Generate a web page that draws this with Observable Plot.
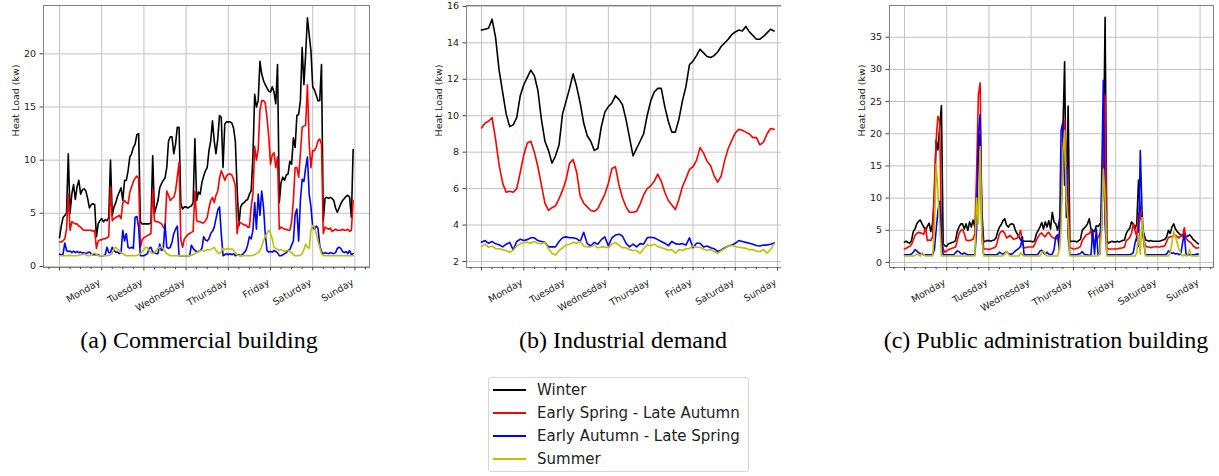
<!DOCTYPE html>
<html><head><meta charset="utf-8">
<script src="https://cdn.jsdelivr.net/npm/d3@7"></script>
<script src="https://cdn.jsdelivr.net/npm/@observablehq/plot@0.6"></script>
<style>
body{margin:0;background:#fff;}
#wrap{position:relative;width:1219px;height:476px;background:#fff;overflow:hidden;}
.panel{position:absolute;top:0;}
.cap{position:absolute;top:328px;font-family:"Liberation Serif","Times New Roman",serif;font-size:24px;line-height:24px;color:#000;white-space:nowrap;transform:translateX(-50%);}
#legend{position:absolute;left:488px;top:377px;width:261px;height:95px;border:1px solid #d6d6d6;border-radius:3px;box-sizing:border-box;font-family:"DejaVu Sans",sans-serif;font-size:15px;color:#222;}
.lrow{position:absolute;left:0;height:23px;line-height:23px;white-space:nowrap;}
.lline{position:absolute;left:4px;top:10.5px;width:33px;height:2px;}
.ltext{position:absolute;left:48px;top:0;}
</style>
</head><body>
<div id="wrap">
  <div class="panel" id="pa" style="left:0;width:380px;"></div>
  <div class="panel" id="pb" style="left:420px;width:361px;height:320px;overflow:hidden;"></div>
  <div class="panel" id="pc" style="left:845px;width:374px;"></div>
  <div class="cap" id="ca" style="left:199px;"></div>
  <div class="cap" id="cb" style="left:623px;"></div>
  <div class="cap" id="cc" style="left:1046px;"></div>
  <div id="legend"></div>
</div>
<script>
const dayLabels = ["Monday","Tuesday","Wednesday","Thursday","Friday","Saturday","Sunday"];
const seasonNames = ["Winter","Early Spring - Late Autumn","Early Autumn - Late Spring","Summer"];
const seasonColors = ["#000000","#ff0000","#0000ff","#bfbf00"];
const captions = ["(a) Commercial building","(b) Industrial demand","(c) Public administration building"];
const commYTicks = [0,5,10,15,20];
const indYTicks = [2,4,6,8,10,12,14,16];
const pubYTicks = [0,5,10,15,20,25,30,35];

// (a) Commercial building, hourly values (h = 0..167)
const commWinter = [
2.7,3.8,4.6,4.8,5.0,10.6,5.0,6.8,7.7,6.3,7.5,8.1,6.8,7.2,7.3,7.1,6.4,5.5,5.8,5.9,5.8,2.8,4.0,4.3,
4.5,4.2,4.4,4.3,4.6,10.0,4.8,5.6,6.0,6.6,7.0,7.4,6.2,8.1,8.1,9.0,10.3,10.6,11.2,11.5,12.4,12.5,4.2,4.0,
4.0,4.0,4.0,4.0,4.1,10.4,5.0,5.6,6.2,7.4,7.8,8.1,8.3,9.3,11.8,12.2,12.2,10.6,11.5,13.1,13.1,5.9,5.4,5.6,
5.6,5.5,5.6,5.7,6.0,12.0,6.2,7.0,6.8,7.9,8.5,9.0,9.3,10.9,11.8,13.7,11.8,10.6,12.0,14.2,14.0,9.3,13.4,13.6,
13.6,13.6,13.5,13.0,11.8,7.4,3.8,5.6,5.9,6.0,6.2,6.3,6.8,7.1,10.3,16.2,15.0,15.6,19.3,18.1,17.5,17.1,16.8,16.5,
16.4,16.9,16.4,15.3,19.0,6.0,7.9,8.4,8.1,8.6,8.7,9.9,9.6,12.1,11.2,14.2,14.3,15.6,20.6,17.1,20.0,23.4,21.8,20.3,
16.9,16.6,16.1,15.6,15.6,19.0,4.3,6.4,6.5,6.4,6.5,6.4,6.2,5.5,5.1,5.5,5.9,6.2,6.4,6.6,6.7,6.5,4.6,11.0];
const commEarly = [
2.3,2.3,2.4,2.6,3.5,6.8,3.4,4.2,4.1,4.0,4.0,3.8,3.7,3.5,3.4,3.4,3.4,3.4,3.4,3.3,3.4,1.7,2.4,2.5,
2.5,2.6,2.6,2.7,2.8,7.5,4.3,4.5,4.6,4.7,4.8,4.5,6.0,6.2,6.0,5.9,7.0,7.5,8.0,8.3,8.5,8.3,1.8,2.5,
2.7,2.8,2.9,3.0,3.1,7.2,4.3,4.2,4.2,4.1,4.0,3.7,3.5,7.1,6.7,6.2,6.4,6.5,7.1,8.4,9.8,2.5,1.8,2.6,
2.8,3.0,3.1,3.2,3.3,7.1,4.3,4.2,4.2,4.1,4.1,4.3,4.6,5.5,6.2,6.5,6.0,6.7,7.1,8.3,9.0,8.6,8.1,8.5,
8.7,8.7,8.6,8.2,7.6,3.1,4.2,4.1,4.0,3.9,3.9,3.7,3.7,5.6,6.8,11.3,10.0,11.0,14.7,15.6,15.6,15.4,14.0,12.2,
9.6,10.5,10.7,9.3,10.3,3.5,3.7,3.6,3.5,3.5,3.4,3.4,4.2,6.2,9.3,9.3,8.4,10.6,13.1,13.2,13.3,17.1,11.5,9.3,
10.9,10.9,11.2,11.8,12.0,11.5,3.1,3.7,3.6,3.5,3.6,3.3,3.4,3.5,3.4,3.4,3.4,3.5,3.4,3.4,3.5,3.3,3.4,6.2];
const commAutumn = [
1.15,1.1,1.15,2.2,1.5,1.4,1.45,1.3,1.45,1.3,1.4,1.3,1.35,1.25,1.3,1.2,1.3,1.35,1.2,1.1,1.1,1.1,1.1,1.0,
1.0,1.0,1.1,1.8,1.3,1.3,1.8,1.5,1.35,1.35,1.2,1.3,3.4,2.4,3.1,1.8,1.7,1.8,1.7,4.6,4.7,3.7,1.0,1.0,
1.0,1.1,1.2,1.7,1.8,1.35,1.3,1.2,1.2,2.1,1.5,1.6,4.0,1.8,1.7,1.8,2.3,3.1,3.5,3.8,1.0,1.0,1.0,1.0,
1.0,1.0,1.0,2.0,1.7,1.5,1.4,1.4,1.5,1.7,2.8,2.5,2.4,2.6,3.1,3.3,3.7,4.5,5.3,5.6,3.1,1.0,1.1,1.2,
1.1,1.2,1.1,1.2,1.0,1.1,1.1,1.0,1.1,1.3,1.5,2.0,2.8,2.6,3.4,6.0,3.5,6.8,4.8,7.1,5.6,3.1,1.5,1.35,
1.4,1.35,1.5,1.4,1.3,1.0,1.0,1.1,1.2,1.3,1.5,1.6,2.0,2.4,4.9,5.4,2.4,6.2,8.2,8.0,9.3,10.3,6.8,5.6,
3.7,3.5,3.8,3.6,2.0,1.4,1.2,1.3,1.25,1.2,1.3,1.25,1.2,1.3,1.7,1.8,1.7,1.4,1.3,1.4,1.2,1.5,1.1,1.2];
const commSummer = [
1.0,1.0,1.0,1.0,1.0,1.0,1.05,1.0,1.0,1.0,1.0,1.05,1.1,1.1,1.2,1.1,1.0,1.0,1.1,1.2,1.25,1.15,1.0,1.0,
1.0,1.0,1.0,1.0,1.05,1.1,1.2,1.7,1.8,1.6,1.5,1.3,1.2,1.1,1.0,1.0,1.0,1.0,1.0,1.0,1.05,1.1,1.2,1.4,
1.6,1.8,1.75,1.5,1.3,1.2,1.3,1.5,1.7,1.8,1.8,1.7,1.4,1.2,1.1,1.0,1.0,1.0,1.0,1.0,1.0,1.0,1.0,1.0,
1.0,1.0,1.0,1.05,1.1,1.2,1.3,1.4,1.5,1.5,1.45,1.5,1.6,1.55,1.6,1.7,1.8,1.5,1.3,1.2,1.4,1.7,1.6,1.65,
1.7,1.6,1.65,1.5,1.3,1.1,1.0,1.0,1.0,1.0,1.0,1.0,1.0,1.0,1.05,1.1,1.2,1.3,1.5,1.9,2.4,2.8,3.1,3.4,
3.1,2.6,1.8,1.7,1.6,1.5,1.6,1.5,1.4,1.5,1.5,1.4,1.3,1.1,1.0,1.0,1.0,1.05,1.2,1.6,2.1,1.8,1.7,3.4,
3.85,3.7,3.1,2.4,1.8,1.2,1.0,1.0,1.0,1.0,1.0,1.0,1.0,1.0,1.0,1.0,1.0,1.0,1.0,1.0,1.0,1.0,1.0,1.0];

// (b) Industrial demand, values every 2 hours (h = 0,2,..,166)
const indWinter = [
14.7,14.75,14.8,15.3,14.3,12.5,11.3,10.1,9.4,9.5,9.9,11.1,
11.7,12.1,12.5,12.2,11.4,9.8,8.6,8.1,7.4,7.8,8.4,10.1,
10.8,11.5,12.3,11.6,10.7,9.6,8.9,8.6,8.1,8.2,9.4,10.2,
10.5,10.7,11.1,10.9,10.6,9.8,8.8,7.8,8.2,8.6,9.0,10.0,
10.8,11.3,11.5,11.5,10.5,9.7,9.1,9.1,9.8,10.8,11.6,12.8,
13.0,13.3,13.65,13.45,13.25,13.2,13.3,13.5,13.8,14.0,14.2,14.45,
14.6,14.7,14.65,14.9,14.6,14.4,14.2,14.2,14.35,14.55,14.75,14.65];
const indEarly = [
9.33,9.6,9.7,9.9,8.7,7.3,6.3,5.8,5.85,5.8,6.0,6.9,
7.85,8.5,8.6,8.0,7.2,6.2,5.2,4.8,4.95,5.05,5.45,5.9,
6.5,7.4,7.6,6.9,5.6,5.2,5.0,4.8,4.75,4.9,5.3,5.7,
6.3,7.1,7.2,6.2,5.5,5.0,4.7,4.7,4.75,5.15,5.65,6.0,
6.15,6.4,6.8,6.4,5.8,5.35,5.1,4.85,5.4,6.1,6.55,7.05,
7.2,7.55,8.25,7.95,7.5,7.25,6.7,6.35,6.7,7.55,8.2,8.65,
9.05,9.25,9.2,9.1,9.0,8.8,8.8,8.4,8.55,9.0,9.3,9.25];
const indAutumn = [
3.06,3.15,3.0,3.1,2.97,2.92,2.8,2.95,3.05,2.64,3.1,3.22,
3.15,3.2,3.3,3.3,3.15,3.1,3.05,2.8,2.8,2.8,3.1,3.3,
3.35,3.3,3.3,3.25,3.1,3.6,2.98,2.85,3.05,2.95,3.2,3.35,
2.85,3.3,3.45,3.5,3.4,3.0,2.8,2.95,2.8,2.98,2.95,3.3,
3.33,3.3,3.2,3.1,3.0,2.87,3.1,2.98,2.95,2.98,2.9,3.3,
2.75,3.0,3.0,2.8,2.85,2.75,2.7,2.55,2.63,2.75,2.85,2.9,
3.0,3.15,3.1,3.05,3.0,2.95,2.88,2.85,2.9,2.9,2.95,3.02];
const indSummer = [
2.82,2.95,2.78,2.85,2.7,2.7,2.65,2.6,2.5,2.62,2.85,2.97,
3.05,3.05,3.0,3.1,3.0,2.97,3.05,2.7,2.45,2.35,2.6,2.75,
2.9,2.95,3.05,3.0,3.1,2.85,2.8,2.8,2.9,2.75,2.8,2.8,
2.75,2.95,3.05,2.9,2.75,2.75,2.65,2.6,2.6,2.45,2.7,2.92,
2.87,2.95,2.82,2.75,2.7,2.62,2.65,2.45,2.65,2.6,2.7,2.7,
2.85,2.78,2.78,2.67,2.62,2.65,2.55,2.45,2.6,2.7,2.85,2.88,
2.82,2.78,2.75,2.72,2.65,2.65,2.58,2.55,2.65,2.45,2.65,2.95];

// (c) Public administration building, hourly values (h = 0..167)
const pubWinter = [
3.2,3.3,3.1,3.0,3.4,4.8,5.2,6.0,6.4,6.6,6.0,5.5,5.0,5.6,6.1,4.8,6.2,10.0,19.0,17.5,21.0,24.4,2.9,2.6,
2.5,2.9,3.0,3.1,3.2,3.4,4.8,5.5,6.0,6.0,5.2,6.0,5.0,6.3,5.5,6.6,5.5,9.0,17.0,20.0,8.0,3.2,3.3,3.4,
3.4,3.3,3.4,3.5,3.8,4.8,5.5,5.9,6.5,6.8,5.8,5.5,5.9,6.0,5.9,5.0,4.5,4.0,3.5,3.4,3.3,3.3,3.3,3.3,
3.3,3.2,3.4,4.5,5.0,5.5,6.2,5.2,6.3,5.5,6.5,5.2,7.8,6.3,6.0,5.0,6.5,8.0,20.0,31.2,7.0,24.3,3.2,3.3,
3.3,3.3,3.2,3.4,3.6,5.0,5.3,5.6,6.0,6.8,5.2,5.0,4.8,5.7,5.6,6.0,6.0,15.0,38.1,3.4,3.0,3.2,3.3,3.2,
3.2,3.3,3.2,3.3,3.4,3.5,4.5,5.0,5.3,6.3,6.0,5.3,6.0,12.8,8.0,6.0,4.5,3.5,3.4,3.3,3.4,3.3,3.3,3.3,
3.3,3.3,3.4,3.5,3.6,4.0,5.0,4.5,5.5,6.0,5.2,4.8,4.5,4.3,4.2,4.2,4.0,4.1,4.3,4.0,3.6,3.4,3.1,2.9];
const pubEarly = [
2.1,2.2,2.4,2.5,2.8,3.5,4.2,4.5,4.7,4.6,4.5,4.4,5.4,3.4,3.5,3.4,4.0,12.0,19.0,22.7,22.0,5.0,2.1,1.6,
1.8,2.0,2.1,2.2,2.3,2.4,3.4,4.5,5.0,5.1,4.5,3.5,3.4,3.4,3.5,3.6,4.5,14.0,26.0,27.9,6.0,2.1,2.1,2.1,
2.0,2.1,2.2,2.3,2.5,3.5,4.5,4.8,4.9,4.5,3.8,4.0,4.2,3.9,3.6,3.7,3.8,4.2,5.0,3.0,2.3,2.3,2.4,2.4,
2.4,2.4,2.8,3.5,4.0,4.4,4.6,4.2,4.0,4.5,4.7,4.2,3.9,3.8,3.6,4.0,4.5,8.0,18.0,22.0,15.0,10.0,2.3,2.2,
2.1,2.1,2.2,2.3,2.5,3.4,3.8,4.2,4.4,4.5,5.0,3.4,3.4,3.5,3.9,4.5,5.0,15.0,26.0,2.2,2.1,2.1,2.1,2.1,
2.1,2.1,2.2,2.2,2.3,2.4,3.4,3.6,3.9,4.5,6.0,5.0,4.0,7.5,8.0,5.5,3.4,2.6,2.4,2.4,2.3,2.4,2.4,2.5,
2.4,2.4,2.5,2.5,2.6,3.3,3.9,4.0,4.0,4.2,4.2,4.0,3.8,4.2,4.0,5.4,3.8,3.4,3.2,3.0,2.6,2.4,2.2,2.3];
const pubAutumn = [
1.2,1.2,1.2,1.2,1.3,1.6,2.0,1.8,1.5,1.4,1.3,1.2,1.2,1.2,1.2,1.2,1.2,2.0,5.0,8.0,9.5,4.0,1.2,1.2,
1.2,1.2,1.2,1.2,1.2,1.5,1.8,1.7,1.4,1.3,1.5,1.3,1.2,1.2,1.2,1.2,1.2,5.0,20.0,23.0,4.0,1.2,1.2,1.2,
1.2,1.2,1.2,1.2,1.2,1.3,1.6,1.4,1.3,1.5,1.7,1.4,1.3,1.3,1.5,1.8,2.0,2.2,2.5,4.0,1.2,1.2,1.2,1.2,
1.2,1.2,1.2,1.2,1.3,1.8,1.9,1.5,1.3,1.6,1.3,1.2,1.3,2.0,4.0,4.3,2.0,20.5,21.8,12.0,15.0,4.0,1.2,1.2,
1.2,1.2,1.2,1.3,1.4,1.7,1.3,1.2,1.2,1.1,1.2,5.0,1.3,5.2,1.2,1.3,12.0,28.3,6.0,1.2,1.2,1.2,1.2,1.2,
1.2,1.2,1.2,1.2,1.2,1.2,1.2,1.2,1.2,1.3,1.5,3.0,4.0,2.5,17.4,8.0,3.0,1.2,1.2,1.2,1.2,1.2,1.2,1.2,
1.2,1.2,1.2,1.2,1.2,1.3,1.8,1.6,1.4,1.5,1.3,1.4,1.2,1.3,3.0,4.5,1.3,1.2,1.2,1.2,1.2,1.2,1.3,1.3];
const pubSummer = [
1.0,1.0,1.0,1.0,1.0,1.0,1.1,1.3,1.2,1.0,1.5,1.2,1.0,1.0,1.0,1.0,1.0,5.0,15.3,11.0,6.0,1.0,1.0,1.0,
1.0,1.0,1.0,1.0,1.0,1.0,1.0,1.0,1.0,1.0,1.0,1.0,1.0,1.0,1.0,1.0,1.0,10.0,6.0,18.0,4.0,1.0,1.0,1.0,
1.0,1.0,1.0,1.0,1.0,1.0,1.0,1.0,1.0,1.3,1.7,1.3,1.0,1.0,1.0,1.0,1.0,1.0,1.5,1.2,1.0,1.0,1.0,1.0,
1.0,1.0,1.0,1.0,1.0,1.0,1.5,1.8,1.3,1.0,1.0,1.0,1.0,1.0,1.0,1.0,2.0,5.0,17.0,20.5,10.0,6.0,1.0,1.0,
1.0,1.0,1.0,1.0,1.0,1.0,1.0,1.0,1.0,1.0,1.0,1.0,1.0,1.0,1.0,1.5,5.0,14.5,10.0,1.0,1.0,1.0,1.0,1.0,
1.0,1.0,1.0,1.0,1.0,1.0,1.0,1.0,1.0,1.0,1.0,1.0,1.5,4.5,1.3,7.0,3.5,1.0,1.0,1.0,1.0,1.0,1.0,1.0,
1.0,1.0,1.0,1.0,1.0,1.0,1.0,1.5,3.0,4.8,4.0,3.0,2.0,1.5,1.0,1.2,1.0,1.2,2.0,1.0,1.0,1.0,1.0,1.0];

function makePanel(series, step, o) {
  const majorX = d3.range(0, 169, 24);
  const minorX = d3.range(-6, 175, 6).filter(h => h % 24 !== 0);
  const lines = series.map((vals, i) => Plot.line(
    vals.map((v, j) => ({x: j * step, y: v})),
    {x: "x", y: "y", stroke: seasonColors[i], strokeWidth: 1.6, strokeLinejoin: "round"}));
  return Plot.plot({
    width: o.width, height: 320,
    marginLeft: o.mL, marginRight: o.mR, marginTop: 5, marginBottom: 53,
    x: {domain: o.xDom}, y: {domain: o.yDom},
    style: {fontFamily: "'DejaVu Sans', sans-serif", fontSize: "9.5px", color: "#222", background: "transparent", maxWidth: "none", overflow: "visible"},
    marks: [
      Plot.gridX(majorX, {stroke: "#c2c2c2", strokeOpacity: 1, strokeWidth: 1}),
      Plot.gridY(o.yTicks, {stroke: "#c2c2c2", strokeOpacity: 1, strokeWidth: 1}),
      ...lines,
      Plot.frame({stroke: "#808080"}),
      Plot.axisX(minorX, {tickSize: 2, tickFormat: () => "", label: null, stroke: "#444"}),
      Plot.axisX(majorX, {tickSize: 3.5, tickFormat: () => "", label: null, stroke: "#444"}),
      Plot.axisY(o.yTicks, {tickSize: 3.5, tickPadding: 4, label: null, stroke: "#444", fontSize: 9.5}),
      Plot.text(dayLabels.map((d, i) => ({x: majorX[i + 1], t: d})),
        {x: "x", text: "t", frameAnchor: "bottom", dx: -2, dy: 14, rotate: -30, textAnchor: "end", lineAnchor: "middle", fontSize: 9.5, fill: "#222"}),
      Plot.text(["Heat Load (kw)"], {text: d => d, frameAnchor: "left", dx: -28, rotate: -90, fontSize: 9.5, fill: "#222"})
    ]
  });
}

document.getElementById("pa").append(makePanel([commWinter, commEarly, commAutumn, commSummer], 1,
  {width: 380, mL: 43, mR: 11, xDom: [-9.1, 176.3], yDom: [-0.1, 24.55], yTicks: commYTicks}));
document.getElementById("pb").append(makePanel([indWinter, indEarly, indAutumn, indSummer], 2,
  {width: 380, mL: 46, mR: 12, xDom: [-8.5, 174.2], yDom: [1.67, 16.05], yTicks: indYTicks}));
document.getElementById("pc").append(makePanel([pubWinter, pubEarly, pubAutumn, pubSummer], 1,
  {width: 374, mL: 44, mR: 6, xDom: [-8.5, 175.6], yDom: [-0.78, 39.93], yTicks: pubYTicks}));

document.getElementById("ca").textContent = captions[0];
document.getElementById("cb").textContent = captions[1];
document.getElementById("cc").textContent = captions[2];

const leg = document.getElementById("legend");
seasonNames.forEach((name, i) => {
  const row = document.createElement("div");
  row.className = "lrow";
  row.style.top = (0.5 + i * 23) + "px";
  row.style.width = "100%";
  const ln = document.createElement("div");
  ln.className = "lline";
  ln.style.background = seasonColors[i];
  const tx = document.createElement("div");
  tx.className = "ltext";
  tx.textContent = name;
  row.append(ln, tx);
  leg.append(row);
});
</script>
</body></html>
